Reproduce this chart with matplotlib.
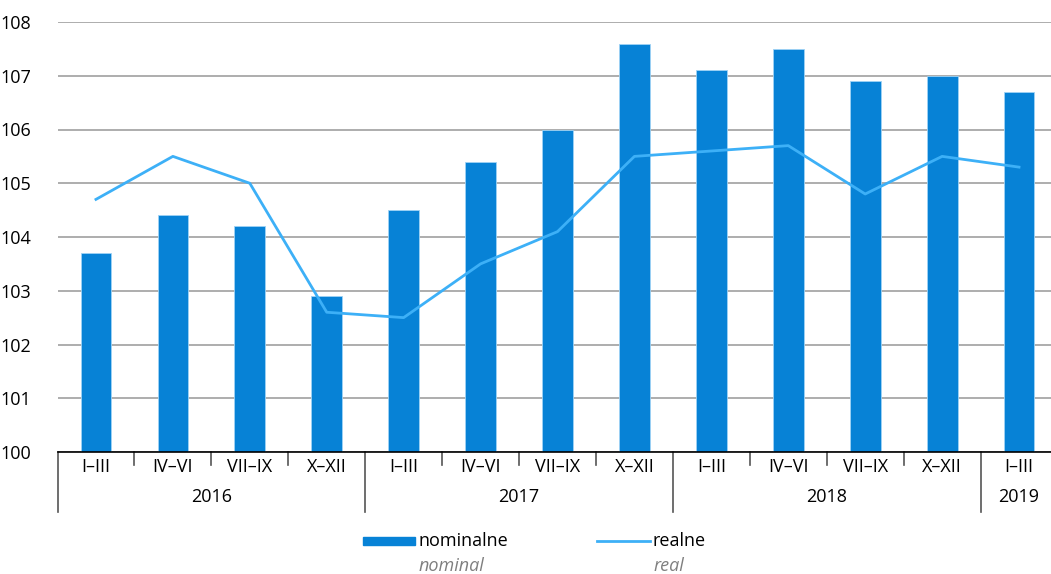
import matplotlib.pyplot as plt
from matplotlib.patches import Rectangle
from matplotlib.lines import Line2D
import matplotlib.transforms as mtransforms

quarters = ['I–III', 'IV–VI', 'VII–IX', 'X–XII',
            'I–III', 'IV–VI', 'VII–IX', 'X–XII',
            'I–III', 'IV–VI', 'VII–IX', 'X–XII',
            'I–III']
years = ['2016', '2017', '2018', '2019']
year_len = [4, 4, 4, 1]
nominal = [103.7, 104.4, 104.2, 102.9, 104.5, 105.4, 106.0, 107.6,
           107.1, 107.5, 106.9, 107.0, 106.7]
real = [104.7, 105.5, 105.0, 102.6, 102.5, 103.5, 104.1, 105.5,
        105.6, 105.7, 104.8, 105.5, 105.3]

BAR = '#0782d6'
LINE = '#3db0f7'
FS = 13

plt.rcParams['font.family'] = ['Open Sans', 'DejaVu Sans']

fig = plt.figure(figsize=(10.51, 5.74), dpi=100)
ax = fig.add_axes([57.5 / 1051, 1 - 452 / 574, 1000 / 1051, (452 - 22) / 574])

x = list(range(len(quarters)))
ax.bar(x, [v - 100 for v in nominal], bottom=100, width=0.4, color=BAR,
       edgecolor='#9fd3f5', linewidth=0.6, zorder=2)
ax.plot(x, real, color=LINE, lw=2, zorder=3)

ax.set_xlim(-0.5, len(quarters) - 0.5)
ax.set_ylim(100, 108)
ax.set_yticks(range(100, 109))
ax.yaxis.grid(True, color='#a0a0a0', lw=1.2)
ax.set_axisbelow(True)
ax.tick_params(axis='y', length=0, pad=19, labelsize=FS)
ax.set_xticks([])
for s in ['top', 'right', 'left']:
    ax.spines[s].set_visible(False)
ax.spines['bottom'].set_color('black')
ax.spines['bottom'].set_linewidth(1.2)

tr = mtransforms.blended_transform_factory(ax.transData, ax.transAxes)
short = -13 / 430
long_ = -60 / 430
for i, q in enumerate(quarters):
    ax.text(i, -15 / 430, q, transform=tr, ha='center', va='center', fontsize=FS)

boundaries = [-0.5]
pos = -0.5
for n in year_len:
    pos += n
    boundaries.append(pos)
for i in range(len(quarters) + 1):
    b = i - 0.5
    y1 = long_ if b in boundaries else short
    ax.add_line(Line2D([b, b], [0, y1], transform=tr, color='#555555', lw=1.2, clip_on=False))

start = -0.5
for yr, n in zip(years, year_len):
    ax.text(start + n / 2, -45 / 430, yr, transform=tr, ha='center', va='center', fontsize=FS)
    start += n

# legend
fig.patches.append(Rectangle((363 / 1051, 1 - 545 / 574), 52 / 1051, 8 / 574,
                             transform=fig.transFigure, color=BAR))
fig.text(419 / 1051, 1 - 541 / 574, 'nominalne', fontsize=FS, va='center', ha='left')
fig.text(419 / 1051, 1 - 566 / 574, 'nominal', fontsize=FS, va='center', ha='left',
         style='italic', color='#7f7f7f')
fig.lines.append(Line2D([597 / 1051, 650 / 1051], [1 - 541 / 574, 1 - 541 / 574],
                        transform=fig.transFigure, color=LINE, lw=2))
fig.text(653 / 1051, 1 - 541 / 574, 'realne', fontsize=FS, va='center', ha='left')
fig.text(653 / 1051, 1 - 566 / 574, 'real', fontsize=FS, va='center', ha='left',
         style='italic', color='#7f7f7f')

fig.savefig('out.png', dpi=100)
